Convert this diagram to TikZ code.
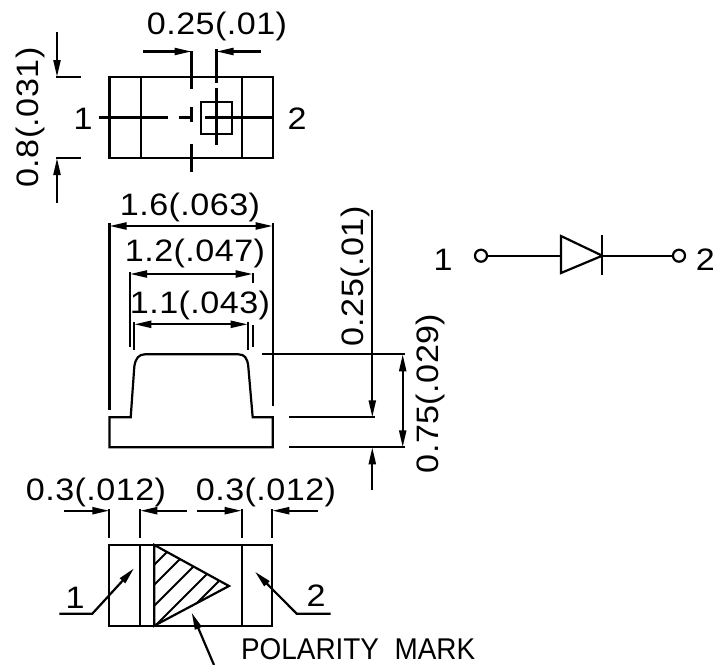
\documentclass[tikz,border=0pt]{standalone}
\usepackage{fontspec}
\usetikzlibrary{arrows.meta}
\newfontfamily\dimfont[FakeStretch=1.1,LetterSpace=1.5]{Liberation Sans}
\newfontfamily\markfont[FakeStretch=0.93]{Liberation Sans}
\tikzset{
  dimtext/.style={inner sep=0pt,anchor=base,font=\fontsize{31}{31}\dimfont},
  vdimtext/.style={dimtext,rotate=90},
  pin/.style={circle,draw,inner sep=0pt,minimum size=12pt}
}
\begin{document}
\begin{tikzpicture}
      [x=1pt,y=-1pt,line width=2.2pt,>={Stealth[length=17pt,width=7pt,inset=0pt]}]
      \useasboundingbox (0,0) rectangle (716,665);
      \node[dimtext](topdim) at (217,34) {0.25(.01)};
      \node[vdimtext](heightdim) at (38,117.5) {0.8(.031)};
      \node[dimtext](topleft) at (83,129) {1};
      \node[dimtext](topright) at (297,129) {2};
      \draw (109.5,77) rectangle (273,158);
      \draw (141,77) -- (141,158);
      \draw (242,77) -- (242,158);
      \draw (201,102) rectangle (232,134);
      \draw (99,117.5) -- (168,117.5);
      \draw (179,117.5) -- (193,117.5);
      \draw (205,117.5) -- (273,117.5);
      \draw (191.5,51) -- (191.5,89);
      \draw (191.5,107) -- (191.5,122);
      \draw (191.5,144) -- (191.5,172);
      \draw (216.5,49) -- (216.5,83);
      \draw (216.5,88) -- (216.5,145);
      \draw[->] (143,51.5) -- (191.5,51.5);
      \draw[->] (261,51.5) -- (216.5,51.5);
      \draw (56,77) -- (81,77);
      \draw (56,158) -- (81,158);
      \draw[->] (57,32) -- (57,77);
      \draw[->] (57,203) -- (57,158);

      \node[dimtext](widthdim) at (190,215) {1.6(.063)};
      \node[dimtext](innerdim) at (195,261) {1.2(.047)};
      \node[dimtext](domedim) at (200,313) {1.1(.043)};
      \node[vdimtext](sidedim) at (363,276.5) {0.25(.01)};
      \node[vdimtext](totaldim) at (438,393.5) {0.75(.029)};
      \draw (109.5,447.3) -- (109.5,417.3) -- (130.7,417.3) -- (134.3,366.7)
        .. controls (135.5,358) and (139,354.3) .. (145,354.3)
        -- (238.3,354.3)
        .. controls (244.5,354.3) and (247.5,358) .. (248.3,366.7)
        -- (252.7,417.3) -- (272.7,417.3) -- (272.7,447.3) -- cycle;
      \draw (109.5,223) -- (109.5,410);
      \draw (272.7,223) -- (272.7,406);
      \draw[<->] (109.5,226) -- (272.7,226);
      \draw (130,271.7) -- (130,347.3);
      \draw (252.7,273) -- (252.7,283);
      \draw (252.7,325) -- (252.7,347.3);
      \draw[<->] (130,274) -- (252.7,274);
      \draw (134.3,321.7) -- (134.3,350);
      \draw (247.7,321.7) -- (247.7,350);
      \draw[<->] (134.3,324.3) -- (247.7,324.3);
      \draw (262.3,354.3) -- (405,354.3);
      \draw (289.3,417.3) -- (375,417.3);
      \draw (289.3,447.3) -- (405,447.3);
      \draw[->] (372.3,210) -- (372.3,417.3);
      \draw[<->] (402.7,354.3) -- (402.7,447.3);
      \draw[->] (372.3,490) -- (372.3,447.3);

      \node[dimtext](leftdim) at (96,500) {0.3(.012)};
      \node[dimtext](rightdim) at (266,500) {0.3(.012)};
      \draw (109.3,545) rectangle (272.3,625.7);
      \draw (140.3,545) -- (140.3,625.7);
      \draw (241.7,545) -- (241.7,625.7);
      \draw (154.3,545) -- (229,586) -- (154.3,625.7) -- cycle;
      \begin{scope}
        \clip (154.3,545) -- (229,586) -- (154.3,625.7) -- cycle;
        \foreach \hatch in {719,739,760,781,800}
          \draw[line width=1.8pt] (154.3,\hatch-154.3) -- (\hatch-545,545);
      \end{scope}
      \draw (109.3,509) -- (109.3,537.7);
      \draw (140.3,509) -- (140.3,537.7);
      \draw (241.7,509) -- (241.7,537.7);
      \draw (272.3,509) -- (272.3,537.7);
      \draw[->] (64.3,510.7) -- (109.3,510.7);
      \draw[->] (186.7,510.7) -- (140.3,510.7);
      \draw[->] (196.7,510.7) -- (241.7,510.7);
      \draw[->] (317.7,510.7) -- (272.3,510.7);
      \node[dimtext](leaderleft) at (75,608) {1};
      \node[dimtext](leaderright) at (316,606) {2};
      \draw[->] (59.3,613.7) -- (92.3,613.7) -- (134,568.3);
      \draw[->] (330.7,613.7) -- (296.7,613.7) -- (255,571.7);
      \draw[->] (214,665) -- (191.7,612.7);
      \node[dimtext,anchor=base west,font=\fontsize{30}{30}\markfont](polarity) at (240,659) {POLARITY\ \ MARK};

      \node[dimtext](symleft) at (443,270) {1};
      \node[dimtext,anchor=base east](symright) at (716,270) {2};
      \node[pin](pinleft) at (481,255.7) {};
      \node[pin](pinright) at (679,255.7) {};
      \coordinate(anode) at (561,255.7);
      \coordinate(cathode) at (602.3,255.7);
      \draw (pinleft) -- (anode);
      \draw (cathode) -- (pinright);
      \draw (561,236) -- (cathode) -- (561,273) -- cycle;
      \draw (602.3,235) -- (602.3,275);
\end{tikzpicture}
\end{document}
